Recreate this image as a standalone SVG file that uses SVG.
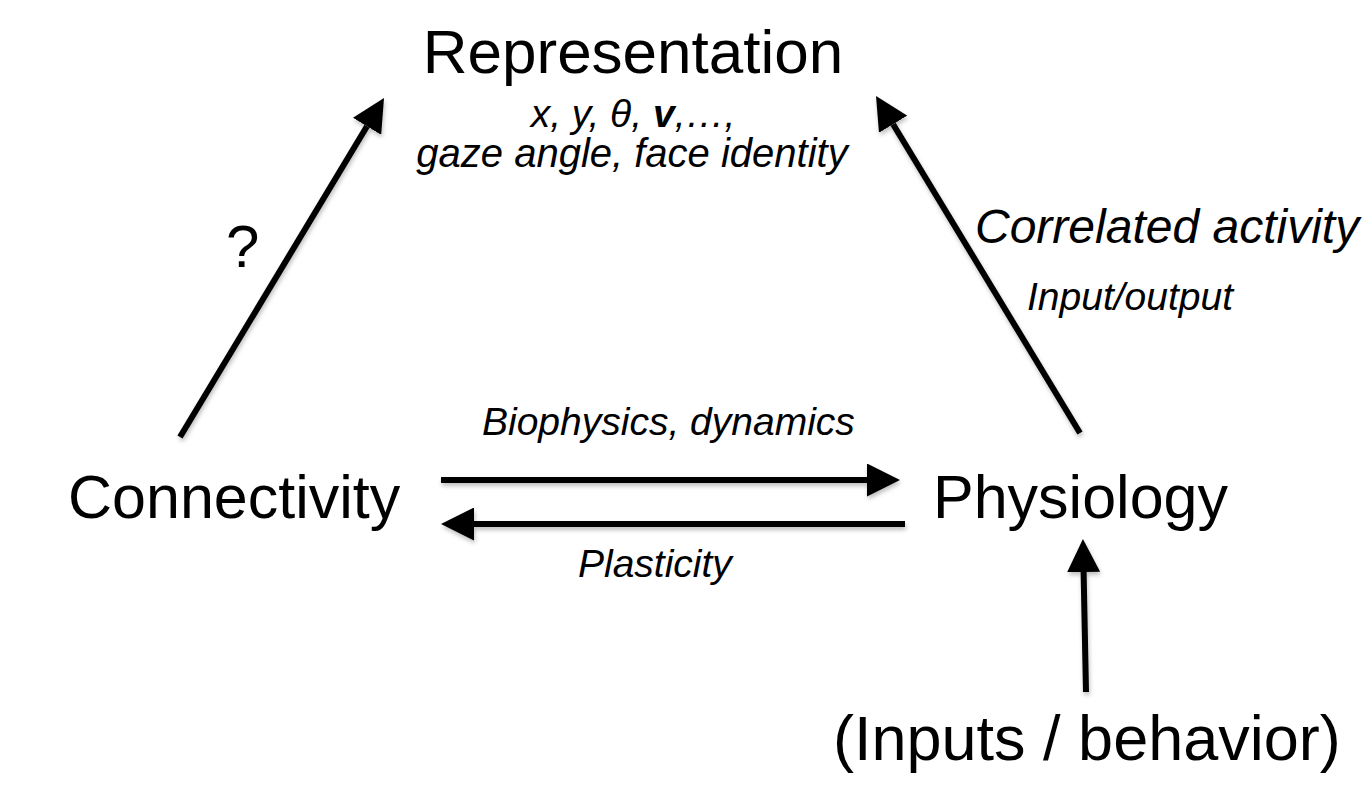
<svg xmlns="http://www.w3.org/2000/svg" width="1372" height="804" viewBox="0 0 1372 804">
  <style>
    text { font-family: "Liberation Sans", Arial, sans-serif; fill: #000; }
    .node { font-size: 61px; }
    .lab { font-style: italic; font-size: 39px; }
    .edge { stroke: #000; stroke-width: 6; fill: none; marker-end: url(#head); }
  </style>
  <defs>
    <marker id="head" markerUnits="userSpaceOnUse" viewBox="0 0 10 10" markerWidth="33" markerHeight="33" refX="0" refY="5" orient="auto">
      <path d="M0,0 L10,5 L0,10 z" fill="#000"/>
    </marker>
    <filter id="shadow" filterUnits="userSpaceOnUse" x="0" y="0" width="1372" height="804">
      <feDropShadow dx="1" dy="3" stdDeviation="2" flood-color="#000" flood-opacity="0.25"/>
    </filter>
  </defs>
  <rect width="1372" height="804" fill="#fff"/>

  <g id="connectors" filter="url(#shadow)">
    <line class="edge" x1="180" y1="437" x2="367" y2="126.3"/>
    <line class="edge" x1="1080" y1="433" x2="893.1" y2="124.2"/>
    <line class="edge" x1="441" y1="480" x2="867" y2="480"/>
    <line class="edge" x1="905" y1="524" x2="474" y2="524"/>
    <line class="edge" x1="1086" y1="692" x2="1083.6" y2="572"/>
  </g>

  <g id="edge-labels">
    <text x="226" y="267" font-size="60">?</text>
    <text class="lab" x="975" y="243" style="font-size:48px">Correlated activity</text>
    <text class="lab" x="1027" y="310">Input/output</text>
    <text class="lab" x="482" y="435">Biophysics, dynamics</text>
    <text class="lab" x="578" y="577">Plasticity</text>
  </g>

  <g id="node-representation">
    <text x="633" y="73" font-size="62" text-anchor="middle">Representation</text>
    <text class="lab" x="633" y="127" text-anchor="middle">x, y, θ, <tspan font-weight="bold">v</tspan>,…,</text>
    <text class="lab" x="632" y="167" text-anchor="middle" style="font-size:40px">gaze angle, face identity</text>
  </g>

  <g id="node-connectivity">
    <text class="node" x="68" y="518">Connectivity</text>
  </g>

  <g id="node-physiology">
    <text class="node" x="933" y="518">Physiology</text>
  </g>

  <g id="node-inputs">
    <text x="833" y="760" font-size="63">(Inputs / behavior)</text>
  </g>
</svg>
